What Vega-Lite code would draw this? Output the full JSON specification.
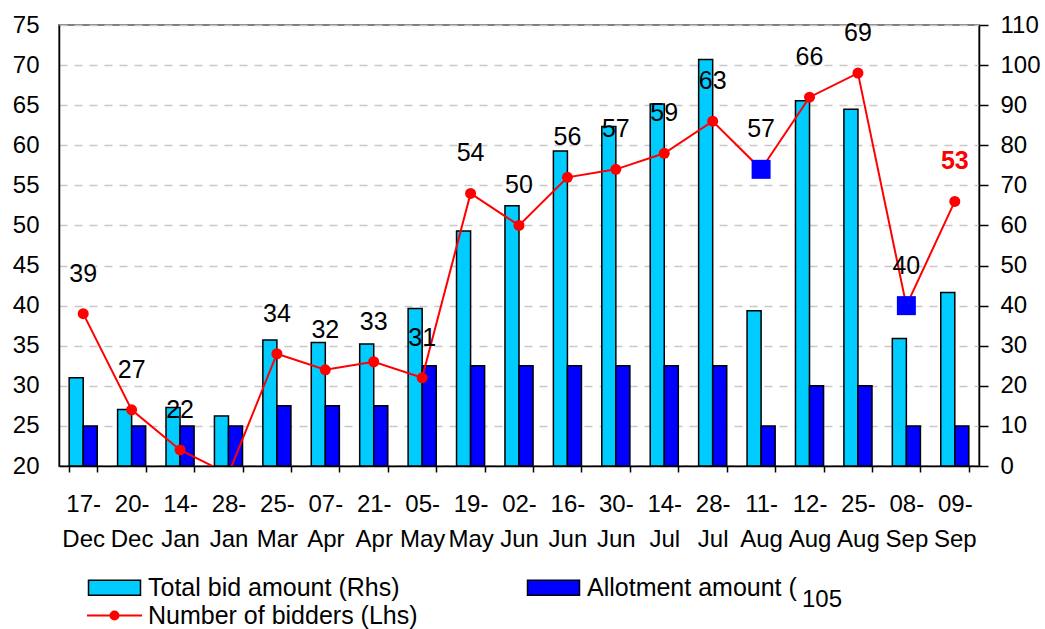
{
  "$schema": "https://vega.github.io/schema/vega-lite/v6.json",
  "width": 920,
  "height": 441,
  "autosize": {"type": "none"},
  "padding": {"left": 59, "top": 25, "right": 66, "bottom": 163},
  "background": "white",
  "config": {
    "font": "Liberation Sans",
    "view": {"stroke": "#808080", "strokeWidth": 2},
    "axis": {"labelFontSize": 24, "labelColor": "black", "labelFont": "Liberation Sans"},
    "legend": {
      "orient": "none",
      "direction": "horizontal",
      "title": null,
      "padding": 0,
      "symbolSize": 400,
      "symbolOpacity": 1,
      "labelFontSize": 25,
      "labelFont": "Liberation Sans",
      "labelColor": "black",
      "labelOffset": 21,
      "labelLimit": 400,
      "rowPadding": 3
    }
  },
  "title": {
    "text": "105",
    "orient": "bottom",
    "anchor": "end",
    "frame": "group",
    "fontSize": 24,
    "font": "Liberation Sans",
    "fontWeight": "normal",
    "color": "black",
    "dx": -137,
    "dy": -41,
    "offset": 0
  },
  "data": {
    "values": [
      {"date": "17-Dec", "total": 22.0, "allotment": 10, "bidders": 39},
      {"date": "20-Dec", "total": 14.1, "allotment": 10, "bidders": 27},
      {"date": "14-Jan", "total": 14.6, "allotment": 10, "bidders": 22},
      {"date": "28-Jan", "total": 12.5, "allotment": 10, "bidders": 19},
      {"date": "25-Mar", "total": 31.4, "allotment": 15, "bidders": 34},
      {"date": "07-Apr", "total": 30.8, "allotment": 15, "bidders": 32},
      {"date": "21-Apr", "total": 30.4, "allotment": 15, "bidders": 33},
      {"date": "05-May", "total": 39.3, "allotment": 25, "bidders": 31},
      {"date": "19-May", "total": 58.6, "allotment": 25, "bidders": 54},
      {"date": "02-Jun", "total": 64.9, "allotment": 25, "bidders": 50},
      {"date": "16-Jun", "total": 78.6, "allotment": 25, "bidders": 56},
      {"date": "30-Jun", "total": 84.7, "allotment": 25, "bidders": 57},
      {"date": "14-Jul", "total": 90.3, "allotment": 25, "bidders": 59},
      {"date": "28-Jul", "total": 101.4, "allotment": 25, "bidders": 63},
      {"date": "11-Aug", "total": 38.7, "allotment": 10, "bidders": 57},
      {"date": "12-Aug", "total": 91.1, "allotment": 20, "bidders": 66},
      {"date": "25-Aug", "total": 89.0, "allotment": 20, "bidders": 69},
      {"date": "08-Sep", "total": 31.8, "allotment": 10, "bidders": 40},
      {"date": "09-Sep", "total": 43.3, "allotment": 10, "bidders": 53}
    ]
  },
  "layer": [
    {
      "transform": [{"fold": ["total", "allotment"], "as": ["series", "amount"]}],
      "mark": {"type": "bar", "stroke": "black", "strokeWidth": 1.5, "opacity": 1},
      "encoding": {
        "x": {
          "field": "date",
          "type": "nominal",
          "sort": null,
          "scale": {"paddingInner": 0.42, "paddingOuter": 0.21},
          "axis": {
            "title": null,
            "labelAngle": 0,
            "labelExpr": "datum.value ? [split(datum.value, '-')[0] + '-', split(datum.value, '-')[1]] : ''",
            "labelLineHeight": 35,
            "labelPadding": 20,
            "labelBaseline": "top",
            "tickBand": "extent",
            "tickSize": 6,
            "tickColor": "black",
            "tickWidth": 1.5,
            "domainColor": "black",
            "domainWidth": 1.5,
            "labelFontSize": 24
          }
        },
        "xOffset": {"field": "series", "sort": ["total", "allotment"]},
        "y": {
          "field": "amount",
          "type": "quantitative",
          "scale": {"domain": [0, 110], "nice": false},
          "axis": {
            "orient": "right",
            "values": [0, 10, 20, 30, 40, 50, 60, 70, 80, 90, 100, 110],
            "title": null,
            "grid": false,
            "tickSize": 9,
            "tickColor": "black",
            "tickWidth": 1.5,
            "domainColor": "black",
            "domainWidth": 1.5,
            "labelPadding": 12,
            "labelFontSize": 24
          }
        },
        "fill": {
          "field": "series",
          "type": "nominal",
          "scale": {"domain": ["total", "allotment"], "range": ["#00ccff", "#0000ff"]},
          "legend": {
            "legendX": 43,
            "legendY": 550,
            "columns": 2,
            "columnPadding": 124,
            "symbolType": "M-2.6,-0.75H2.6V0.75H-2.6Z",
            "symbolStrokeColor": "black",
            "symbolStrokeWidth": 1.5,
            "labelExpr": "datum.value === 'total' ? 'Total bid amount (Rhs)' : 'Allotment amount ('"
          }
        }
      }
    },
    {
      "layer": [
        {
          "mark": {"type": "line", "strokeWidth": 2, "clip": true},
          "encoding": {
            "x": {"field": "date", "type": "nominal", "sort": null},
            "y": {
              "field": "bidders",
              "type": "quantitative",
              "scale": {"domain": [20, 75], "nice": false, "zero": false},
              "axis": {
                "orient": "left",
                "values": [20, 25, 30, 35, 40, 45, 50, 55, 60, 65, 70, 75],
                "title": null,
                "ticks": false,
                "grid": true,
                "gridDash": [8, 7],
                "gridColor": "#c8c8c8",
                "gridWidth": 1.5,
                "domainColor": "black",
                "domainWidth": 1.5,
                "labelPadding": 20,
                "labelFontSize": 24
              }
            },
            "stroke": {
              "datum": "bidders",
              "type": "nominal",
              "scale": {"domain": ["bidders"], "range": ["#ff0000"]},
              "legend": {
                "legendX": 43,
                "legendY": 578,
                "symbolType": "M-2.75,0H2.75M0.4,0A0.4,0.4 0 1,1 -0.4,0A0.4,0.4 0 1,1 0.4,0Z",
                "symbolFillColor": "#ff0000",
                "symbolStrokeWidth": 2,
                "labelExpr": "'Number of bidders (Lhs)'"
              }
            }
          }
        },
        {
          "mark": {"type": "point", "filled": true, "opacity": 1, "clip": true},
          "encoding": {
            "x": {"field": "date", "type": "nominal", "sort": null},
            "y": {"field": "bidders", "type": "quantitative"},
            "shape": {"condition": {"test": "datum.date === '11-Aug' || datum.date === '08-Sep'", "value": "square"}, "value": "circle"},
            "size": {"condition": {"test": "datum.date === '11-Aug' || datum.date === '08-Sep'", "value": 361}, "value": 121},
            "fill": {"condition": {"test": "datum.date === '11-Aug' || datum.date === '08-Sep'", "value": "#0000ff"}, "value": "#ff0000"}
          }
        },
        {
          "transform": [{"filter": "datum.bidders >= 20 && datum.date !== '09-Sep'"}],
          "mark": {"type": "text", "dy": -40, "fontSize": 25, "color": "black", "baseline": "middle"},
          "encoding": {
            "x": {"field": "date", "type": "nominal", "sort": null},
            "y": {"field": "bidders", "type": "quantitative"},
            "text": {"field": "bidders", "type": "quantitative"}
          }
        },
        {
          "transform": [{"filter": "datum.date === '09-Sep'"}],
          "mark": {"type": "text", "dy": -40, "fontSize": 25, "fontWeight": "bold", "color": "#ff0000", "baseline": "middle"},
          "encoding": {
            "x": {"field": "date", "type": "nominal", "sort": null},
            "y": {"field": "bidders", "type": "quantitative"},
            "text": {"field": "bidders", "type": "quantitative"}
          }
        }
      ]
    }
  ],
  "resolve": {"scale": {"y": "independent"}}
}
